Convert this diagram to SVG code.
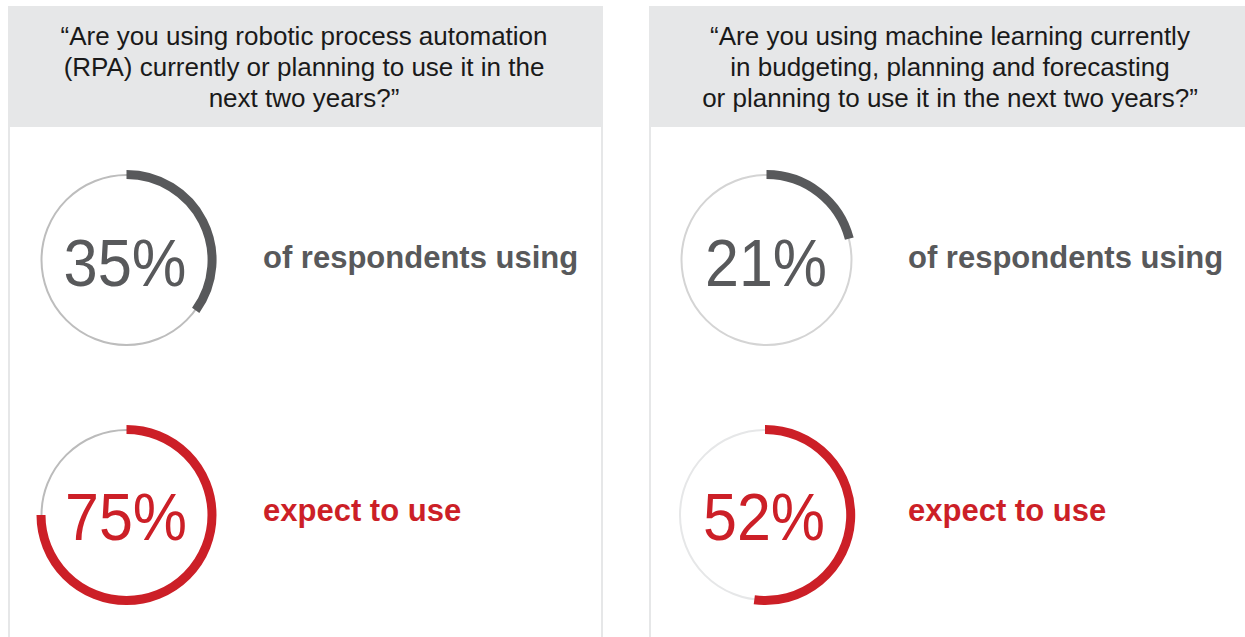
<svg xmlns="http://www.w3.org/2000/svg" width="1245" height="637" viewBox="0 0 1245 637">
<style>
.hdr{fill:#e6e7e8}
.q{font-family:"Liberation Sans",Arial,sans-serif;font-size:26px;fill:#1a1a1a;text-anchor:middle}
.pct{font-family:"Liberation Sans",Arial,sans-serif;font-size:67px;text-anchor:middle}
.lbl{font-family:"Liberation Sans",Arial,sans-serif;font-size:31px;font-weight:bold}
.dark{fill:#58595b}
.red{fill:#cc1f27}
.border{fill:#e6e7e8}
.thin{fill:none;stroke-width:2}
.arc{fill:none;stroke-width:9}
</style>
<rect width="1245" height="637" fill="#ffffff"/>
<g id="panel-rpa">
  <rect class="hdr" x="8" y="6" width="595" height="121"/>
  <rect class="border" x="8" y="127" width="2" height="510"/>
  <rect class="border" x="601" y="127" width="2" height="510"/>
  <text class="q" x="304" y="45">“Are you using robotic process automation</text>
  <text class="q" x="304" y="76">(RPA) currently or planning to use it in the</text>
  <text class="q" x="304" y="107">next two years?”</text>
</g>
<g id="panel-ml">
  <rect class="hdr" x="649" y="6" width="596" height="121"/>
  <rect class="border" x="649" y="127" width="2" height="510"/>
  <text class="q" x="950" y="45">“Are you using machine learning currently</text>
  <text class="q" x="950" y="76">in budgeting, planning and forecasting</text>
  <text class="q" x="950" y="107">or planning to use it in the next two years?”</text>
</g>
<g id="gauge-rpa-using">
  <circle class="thin" cx="126.5" cy="260" r="85" stroke="#bdbdbd"/>
  <path class="arc" stroke="#58595b" d="M126.5 174.5 A85.5 85.5 0 0 1 195.7 310.3"/>
  <text class="pct dark" x="125" y="286" textLength="123" lengthAdjust="spacingAndGlyphs">35%</text>
  <text class="lbl dark" x="263" y="268">of respondents using</text>
</g>
<g id="gauge-rpa-expect">
  <circle class="thin" cx="126.5" cy="515" r="85" stroke="#bbbbbb"/>
  <path class="arc" stroke="#cc1f27" d="M126.5 429.5 A85.5 85.5 0 1 1 41 515"/>
  <text class="pct red" x="126" y="540" textLength="122" lengthAdjust="spacingAndGlyphs">75%</text>
  <text class="lbl red" x="263" y="521">expect to use</text>
</g>
<g id="gauge-ml-using">
  <circle class="thin" cx="766.5" cy="260" r="85" stroke="#d4d4d4"/>
  <path class="arc" stroke="#58595b" d="M766.5 174.5 A85.5 85.5 0 0 1 849.3 238.7"/>
  <text class="pct dark" x="766" y="286" textLength="122" lengthAdjust="spacingAndGlyphs">21%</text>
  <text class="lbl dark" x="908" y="268">of respondents using</text>
</g>
<g id="gauge-ml-expect">
  <circle class="thin" cx="765" cy="515" r="85" stroke="#e6e7e8"/>
  <path class="arc" stroke="#cc1f27" d="M765 429.5 A85.5 85.5 0 1 1 754.3 599.8"/>
  <text class="pct red" x="764" y="540" textLength="122" lengthAdjust="spacingAndGlyphs">52%</text>
  <text class="lbl red" x="908" y="521">expect to use</text>
</g>
<g id="connectors"></g>
</svg>
